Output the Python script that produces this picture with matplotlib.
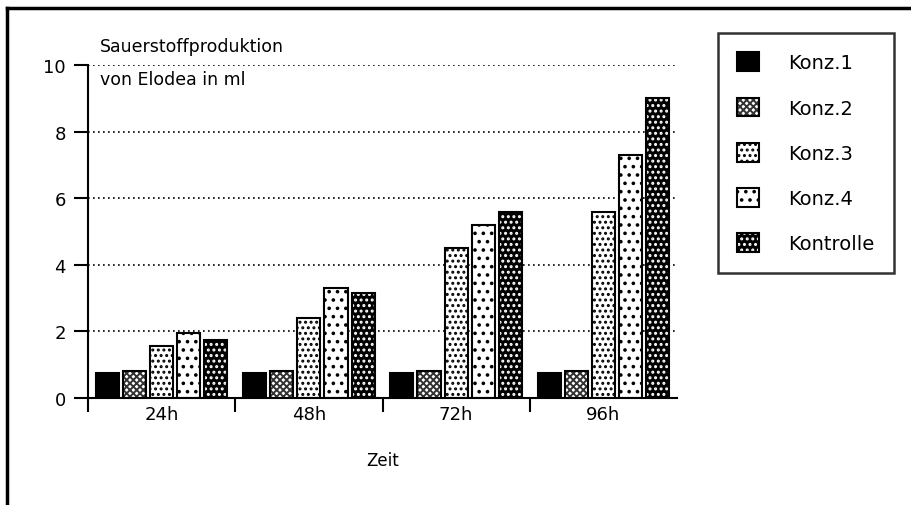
import matplotlib.pyplot as plt
from matplotlib.patches import Patch
from matplotlib.lines import Line2D

plt.rcParams['font.family'] = 'DejaVu Sans'
plt.rcParams['hatch.linewidth'] = 1.4

zeiten = ["24h", "48h", "72h", "96h"]
reihen = ["Konz.1", "Konz.2", "Konz.3", "Konz.4", "Kontrolle"]
konz1 = [0.75, 0.75, 0.75, 0.75]
konz2 = [0.8, 0.8, 0.8, 0.8]
konz3 = [1.55, 2.4, 4.5, 5.6]
konz4 = [1.95, 3.3, 5.2, 7.3]
kontrolle = [1.75, 3.15, 5.6, 9.0]
werte = [konz1, konz2, konz3, konz4, kontrolle]

# face, hatch colour, hatch
stile = [
    ("black", "black", None),
    ("white", "#333333", "xxxxx"),
    ("white", "black", "..."),
    ("white", "black", ".."),
    ("black", "white", "..."),
]

fig = plt.figure(figsize=(9.11, 5.06), dpi=100)
ax = fig.add_axes([88 / 911, 1 - 399 / 506, (677 - 88) / 911, (399 - 66) / 506])

breite = 0.157
abstand = 0.184
handles = []
for i, (name, y) in enumerate(zip(reihen, werte)):
    face, hcol, hatch = stile[i]
    xs = [k + (i - 2) * abstand for k in range(len(zeiten))]
    ax.bar(xs, y, width=breite, facecolor=face, edgecolor=hcol, linewidth=0,
           hatch=hatch, zorder=2)
    ax.bar(xs, y, width=breite, fill=False, edgecolor="black", linewidth=1.5,
           zorder=3)
    handles.append((Patch(facecolor=face, edgecolor=hcol, hatch=hatch, linewidth=0),
                    Patch(fill=False, edgecolor="black", linewidth=1.5)))

ax.set_xlim(-0.5, 3.5)
ax.set_ylim(0, 10)
ax.set_yticks([0, 2, 4, 6, 8, 10])
ax.tick_params(axis="y", direction="out", length=10, width=1.5, labelsize=13, pad=6)
ax.set_xticks([-0.5, 0.5, 1.5, 2.5])
ax.set_xticklabels([])
ax.tick_params(axis="x", which="major", direction="out", length=10, width=1.5)
ax.set_xticks(range(len(zeiten)), minor=True)
ax.set_xticklabels(zeiten, minor=True, fontsize=13)
ax.tick_params(axis="x", which="minor", length=0, pad=5)
ax.set_xlabel("Zeit", fontsize=12, labelpad=20)

ax.spines["top"].set_visible(False)
ax.spines["right"].set_visible(False)
ax.spines["left"].set_linewidth(1.5)
ax.spines["bottom"].set_linewidth(1.5)
for g in [2, 4, 6, 8, 10]:
    ax.axhline(g, color="black", linestyle=(0, (1, 2)), linewidth=1.2, zorder=1)

fig.text(100 / 911, 1 - 38 / 506, "Sauerstoffproduktion", fontsize=12.5,
         ha="left", va="top")
fig.text(100 / 911, 1 - 71 / 506, "von Elodea in ml", fontsize=12.5,
         ha="left", va="top")

leg = fig.legend(handles, reihen, loc="upper left",
                 bbox_to_anchor=(718 / 911, 1 - 34 / 506),
                 bbox_transform=fig.transFigure, borderaxespad=0,
                 fontsize=14, handlelength=1.1, handleheight=1.1,
                 labelspacing=1.3, handletextpad=1.5, borderpad=1.0,
                 fancybox=False, frameon=True)
leg.get_frame().set_edgecolor("black")
leg.get_frame().set_linewidth(1.8)

# Rahmen oben und links
fig.add_artist(Line2D([7 / 911, 7 / 911], [0, 1 - 9 / 506], color="black", linewidth=2.5))
fig.add_artist(Line2D([7 / 911, 1], [1 - 9 / 506, 1 - 9 / 506], color="black", linewidth=2.5))

fig.savefig("out.png", dpi=100)
